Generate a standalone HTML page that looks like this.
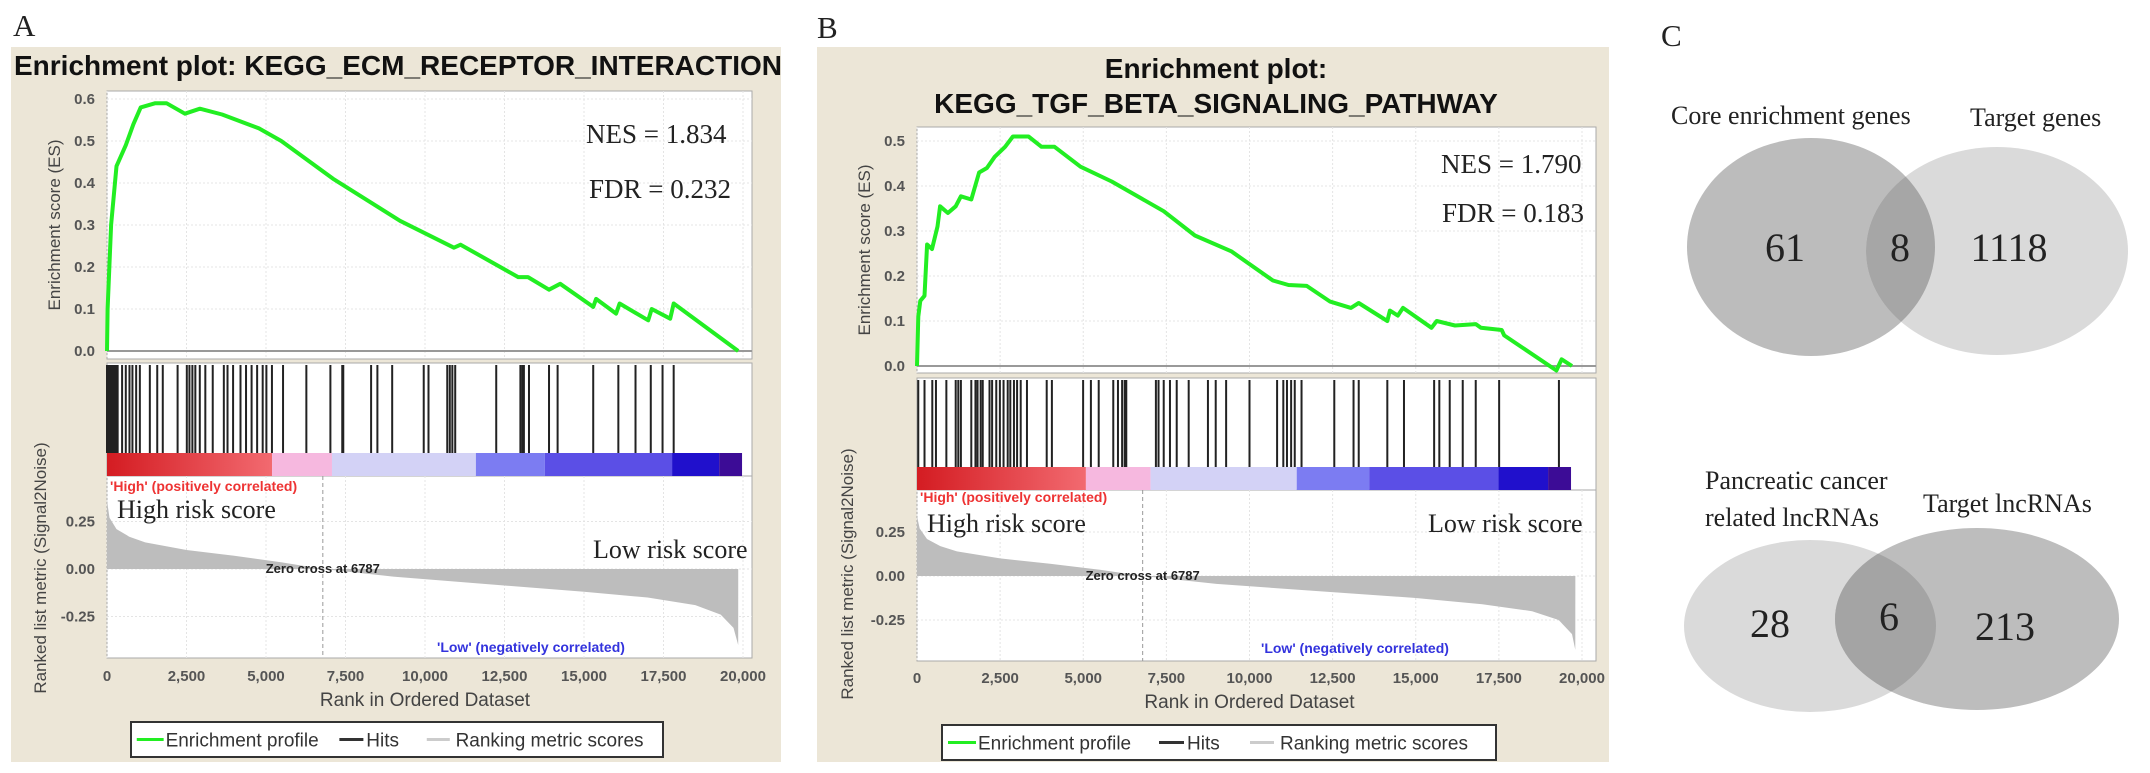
<!DOCTYPE html>
<html><head><meta charset="utf-8">
<style>
html,body{margin:0;padding:0;background:#fff;}
svg{display:block;}
.tk{font-family:"Liberation Sans",Arial,sans-serif;font-size:15px;font-weight:bold;fill:#555;}
.ax{font-family:"Liberation Sans",Arial,sans-serif;font-size:19px;fill:#444;}
.yl{font-family:"Liberation Sans",Arial,sans-serif;font-size:17px;fill:#444;}
.ti{font-family:"Liberation Sans",Arial,sans-serif;font-size:28px;font-weight:bold;fill:#111;}
.tm{font-family:"Liberation Serif","Times New Roman",serif;fill:#222;}
.lg{font-family:"Liberation Sans",Arial,sans-serif;font-size:19px;fill:#333;}
</style></head>
<body>
<svg id="fig" width="2150" height="773" viewBox="0 0 2150 773" xmlns="http://www.w3.org/2000/svg">
<defs>
<linearGradient id="redA" x1="0" x2="1" y1="0" y2="0"><stop offset="0" stop-color="#d41c22"/><stop offset="1" stop-color="#f26a70"/></linearGradient>
</defs>
<text class="tm" x="13" y="36" font-size="31">A</text>
<text class="tm" x="817" y="38" font-size="31">B</text>
<text class="tm" x="1661" y="46" font-size="31">C</text>

<rect x="11" y="47" width="770" height="715" fill="#ece6d7"/>
<rect x="817" y="47" width="792" height="715" fill="#ece6d7"/>
<text class="ti" x="14" y="75">Enrichment plot: KEGG_ECM_RECEPTOR_INTERACTION</text>
<text class="ti" x="1216" y="78" text-anchor="middle">Enrichment plot:</text>
<text class="ti" x="1216" y="113" text-anchor="middle">KEGG_TGF_BETA_SIGNALING_PATHWAY</text>
<g id="gA"></g>
<g id="gB"></g>
<g id="gC"></g>
</svg>
<script>
// ===== Panel A data =====
const esRankA = [0,20,130,300,590,830,1060,1520,1870,2450,2920,3620,4780,5480,7110,9214,10910,11120,12930,13240,13900,14250,15290,15380,16010,16120,17020,17130,17710,17820,19850];
const esValA  = [0,0.10,0.30,0.44,0.49,0.54,0.58,0.59,0.59,0.565,0.577,0.563,0.53,0.50,0.41,0.31,0.246,0.253,0.176,0.176,0.146,0.16,0.105,0.124,0.089,0.113,0.073,0.10,0.077,0.113,0.0];
const hitsA = [0,30,60,90,120,150,180,210,240,270,300,335,475,591,707,800,917,1033,1347,1580,1754,2220,2510,2592,2685,2778,2918,3092,3325,3674,3790,3965,4198,4372,4547,4721,4896,5012,5187,5536,6269,7025,7398,7430,8305,8503,8968,9960,10110,10700,10780,10860,10950,12240,13000,13060,13110,13270,13900,14170,15290,16080,16620,17100,17470,17820];
const metricRankA = [0,80,300,700,1200,2500,4000,5500,6787,9000,12000,15000,17000,18500,19300,19700,19850];
const metricValA  = [0.36,0.27,0.21,0.17,0.14,0.10,0.07,0.035,0,-0.04,-0.08,-0.12,-0.15,-0.19,-0.24,-0.31,-0.40];
const barEndsA = [5190,7075,11600,13770,17770,19250,19970];
// ===== Panel B data =====
const esRankB = [0,38,100,226,304,450,617,695,930,1164,1320,1633,1868,2102,2337,2650,2884,3354,3745,4136,4918,5856,7420,8358,9453,10704,11174,11720,12425,13050,13285,14145,14224,14459,14616,15475,15630,16180,16805,16960,17586,17660,19230,19385,19700];
const esValB  = [0,0.11,0.145,0.156,0.27,0.26,0.31,0.355,0.34,0.355,0.377,0.37,0.43,0.44,0.465,0.487,0.51,0.51,0.487,0.487,0.443,0.41,0.344,0.29,0.255,0.19,0.18,0.178,0.143,0.129,0.14,0.10,0.123,0.112,0.129,0.085,0.10,0.09,0.093,0.085,0.08,0.068,-0.01,0.015,0];
const hitsB = [38,226,460,570,883,1164,1242,1320,1633,1758,1821,1915,1977,2181,2259,2384,2493,2603,2728,2806,2916,3010,3119,3307,3901,4057,4996,5230,5465,5903,6044,6169,6247,6294,7185,7264,7420,7608,7811,8171,8750,8984,9297,10000,10830,11017,11127,11252,11361,11565,12550,13129,13285,14145,14646,15553,15709,16022,16413,16804,17508,19306];
const metricRankB = [0,80,300,700,1200,2500,4000,5500,6787,9000,12000,15000,17000,18500,19300,19700,19800];
const metricValB  = [0.34,0.27,0.21,0.17,0.14,0.10,0.07,0.035,0,-0.045,-0.085,-0.125,-0.16,-0.20,-0.25,-0.33,-0.42];
const barEndsB = [5080,7025,11420,13600,17490,18980,19670];
const xTicks = [0,2500,5000,7500,10000,12500,15000,17500,20000];
const xTickLabels = ["0","2,500","5,000","7,500","10,000","12,500","15,000","17,500","20,000"];
const esTicksA = [0,0.1,0.2,0.3,0.4,0.5,0.6];
const esTicksB = [0,0.1,0.2,0.3,0.4,0.5];
const metricTicks = [0.25,0,-0.25];
const metricTickLabels = ["0.25","0.00","-0.25"];
const zeroCross = 6787;
// ===== Panel C data =====
const vennTopCounts = [61,8,1118];
const vennTopLabels = ["Core  enrichment genes","Target genes"];
const vennBotCounts = [28,6,213];

const NS='http://www.w3.org/2000/svg';
const barColors = ['url(#redA)','#f6b8df','#d3d2f6','#7c7cf2','#5b4fe6','#2010cc','#3c0c96'];
function mk(parent,tag,attrs){const e=document.createElementNS(NS,tag);for(const k in attrs)e.setAttribute(k,attrs[k]);parent.appendChild(e);return e;}

function drawGSEA(g, c, esRank, esVal, esTicks, hits, mRank, mVal, barEnds, pfx){
  const X = r => c.x0 + r/20000*(c.x20k - c.x0);
  const YE = v => c.es0 - v*c.esUnit;
  const YM = v => c.m0 - v*c.mUnit;
  let r=mk(g,'rect',{x:c.left,y:c.esTop,width:c.right-c.left,height:c.esBot-c.esTop,fill:'#fff',stroke:'#aaa'});
  
  r=mk(g,'rect',{x:c.left,y:c.hTop,width:c.right-c.left,height:c.barBot-c.hTop,fill:'#fff',stroke:'#aaa'});
  
  r=mk(g,'rect',{x:c.left,y:c.barBot,width:c.right-c.left,height:c.mBot-c.barBot,fill:'#fff',stroke:'#aaa'});
  
  xTicks.forEach((t,i)=>{
    [[c.esTop,c.esBot],[c.barBot,c.mBot]].forEach(seg=>{
      const l=mk(g,'line',{x1:X(t),x2:X(t),y1:seg[0],y2:seg[1],stroke:'#e4e4e4','stroke-dasharray':'2,2'});
      
    });
    const tx=mk(g,'text',{x:X(t),y:c.tickY,'text-anchor':'middle',class:'tk'});tx.textContent=xTickLabels[i];
    
  });
  esTicks.forEach(t=>{
    const l=mk(g,'line',{x1:c.left,x2:c.right,y1:YE(t),y2:YE(t),stroke:t===0?'#999':'#e4e4e4','stroke-width':t===0?2:1,'stroke-dasharray':t===0?'':'2,2'});
    
    const tx=mk(g,'text',{x:c.left-12,y:YE(t)+5,'text-anchor':'end',class:'tk'});tx.textContent=t.toFixed(1);
    
  });
  metricTicks.forEach((t,i)=>{
    const l=mk(g,'line',{x1:c.left,x2:c.right,y1:YM(t),y2:YM(t),stroke:'#e4e4e4','stroke-dasharray':'2,2'});
    
    const tx=mk(g,'text',{x:c.left-12,y:YM(t)+5,'text-anchor':'end',class:'tk'});tx.textContent=metricTickLabels[i];
    
  });
  let d='M'+X(mRank[0])+','+YM(0);
  mRank.forEach((rk,i)=>{d+=' L'+X(rk).toFixed(1)+','+YM(mVal[i]).toFixed(1);});
  d+=' L'+X(mRank[mRank.length-1])+','+YM(0)+' Z';
  const ar=mk(g,'path',{d:d,fill:'#bdbdbd'});
  
  const zl=mk(g,'line',{x1:X(zeroCross),x2:X(zeroCross),y1:c.barBot,y2:c.mBot,stroke:'#999','stroke-dasharray':'4,3'});
  
  const zt=mk(g,'text',{x:X(zeroCross),y:YM(0)+4,'text-anchor':'middle','font-family':'Liberation Sans, Arial, sans-serif','font-size':13,'font-weight':'bold',fill:'#222'});
  zt.textContent='Zero cross at '+zeroCross;
  
  hits.forEach(h=>{
    const l=mk(g,'line',{x1:X(h),x2:X(h),y1:c.hTop+2,y2:c.barTop,stroke:'#222','stroke-width':2});
    
  });
  let prev=0;
  barEnds.forEach((e,i)=>{
    const b=mk(g,'rect',{x:X(prev),y:c.barTop,width:X(e)-X(prev),height:c.barBot-c.barTop,fill:barColors[i]});
    
    prev=e;
  });
  const pts=esRank.map((rk,i)=>X(rk).toFixed(1)+','+YE(esVal[i]).toFixed(1)).join(' ');
  const pl=mk(g,'polyline',{points:pts,fill:'none',stroke:'#22ee22','stroke-width':4,'stroke-linejoin':'round'});
  
  const T=(x,y,txt,cls,attrs,name)=>{const t=mk(g,'text',Object.assign({x:x,y:y,class:cls},attrs||{}));t.textContent=txt;return t;};
  T(c.left+3,c.hiY,"'High' (positively correlated)",'',{'font-family':'Liberation Sans, Arial, sans-serif','font-size':14,'font-weight':'bold',fill:'#ee3333'},'high-correlated-label');
  T(c.lowX,c.lowY,"'Low' (negatively correlated)",'',{'font-family':'Liberation Sans, Arial, sans-serif','font-size':14,'font-weight':'bold',fill:'#3333dd'},'low-correlated-label');
  T(c.left+10,c.hrY,'High risk score','tm',{'font-size':26},'high-risk-score-label');
  T(c.lrX,c.lrY,'Low risk score','tm',{'font-size':26},'low-risk-score-label');
  T(c.nesX,c.nesY,c.nes,'tm',{'font-size':27},'nes-label');
  T(c.fdrX,c.fdrY,c.fdr,'tm',{'font-size':27},'fdr-label');
  T((c.x0+c.x20k)/2,c.rankY,'Rank in Ordered Dataset','ax',{'text-anchor':'middle'},'x-axis-title');
  T(0,0,'Enrichment score (ES)','yl',{'text-anchor':'middle',transform:'translate('+c.yl1X+','+((c.esTop+c.esBot)/2)+') rotate(-90)'},'es-axis-title');
  T(0,0,'Ranked list metric (Signal2Noise)','yl',{'text-anchor':'middle',transform:'translate('+c.yl2X+','+c.yl2Y+') rotate(-90)'},'metric-axis-title');
  const lb=mk(g,'rect',{x:c.lgX,y:c.lgY,width:c.lgW,height:35,fill:'#fff',stroke:'#333','stroke-width':2});
  
  const ly=c.lgY+17.5, s=c.lgW/554;
  const L=(x1,x2,col,name)=>{const l=mk(g,'line',{x1:c.lgX+x1*s,x2:c.lgX+x2*s,y1:ly,y2:ly,stroke:col,'stroke-width':3});};
  L(6,34,'#22ee22','legend-swatch-enrichment');
  T(c.lgX+36*s,ly+7,'Enrichment profile','lg',{},'legend-entry-enrichment-profile');
  L(217,242,'#333','legend-swatch-hits');
  T(c.lgX+245*s,ly+7,'Hits','lg',{},'legend-entry-hits');
  L(308,332,'#ccc','legend-swatch-ranking');
  T(c.lgX+338*s,ly+7,'Ranking metric scores','lg',{},'legend-entry-ranking-metric-scores');
}

drawGSEA(document.getElementById('gA'),{
  x0:107,x20k:743,left:107,right:752,esTop:91,esBot:359,es0:351,esUnit:420,
  hTop:363,barTop:453,barBot:476,mBot:658,m0:569,mUnit:190,tickY:681,rankY:706,
  hiY:491,lowX:437,lowY:652,hrY:518,lrX:593,lrY:558,nes:'NES = 1.834',nesX:586,nesY:143,fdr:'FDR = 0.232',fdrX:589,fdrY:198,
  yl1X:60,yl2X:46,yl2Y:568,lgX:131,lgY:722,lgW:532
},esRankA,esValA,esTicksA,hitsA,metricRankA,metricValA,barEndsA,'a');

drawGSEA(document.getElementById('gB'),{
  x0:917,x20k:1582,left:917,right:1596,esTop:127,esBot:373,es0:366,esUnit:450,
  hTop:378,barTop:467,barBot:490,mBot:661,m0:576,mUnit:176,tickY:683,rankY:708,
  hiY:502,lowX:1261,lowY:653,hrY:532,lrX:1428,lrY:532,nes:'NES = 1.790',nesX:1441,nesY:173,fdr:'FDR = 0.183',fdrX:1442,fdrY:222,
  yl1X:870,yl2X:853,yl2Y:574,lgX:942,lgY:725,lgW:554
},esRankB,esValB,esTicksB,hitsB,metricRankB,metricValB,barEndsB,'b');

(function(){
  const g=document.getElementById('gC');
  function venn(L,R,colL,colR,colO,counts,id){
    const cp=mk(g,'clipPath',{id:id});
    mk(cp,'ellipse',{cx:R[0],cy:R[1],rx:R[2],ry:R[3]});
    const a=mk(g,'ellipse',{cx:L[0],cy:L[1],rx:L[2],ry:L[3],fill:colL});
    
    const b=mk(g,'ellipse',{cx:R[0],cy:R[1],rx:R[2],ry:R[3],fill:colR});
    
    const o=mk(g,'ellipse',{cx:L[0],cy:L[1],rx:L[2],ry:L[3],fill:colO,'clip-path':'url(#'+id+')'});
    
  }
  function txt(x,y,s,size,name,anchor){const t=mk(g,'text',{x:x,y:y,class:'tm','font-size':size,'text-anchor':anchor||'middle'});t.textContent=s;}
  venn([1811,247,124,109],[1997,251,131,104],'#bcbcbc','#dadada','#a6a6a6',vennTopCounts,'clipTop');
  txt(1785,261,String(vennTopCounts[0]),40,'venn-top-left-count');
  txt(1900,261,String(vennTopCounts[1]),40,'venn-top-overlap-count');
  txt(2009,261,String(vennTopCounts[2]),40,'venn-top-right-count');
  txt(1671,124,vennTopLabels[0],26,'venn-top-left-label','start');
  txt(1970,126,vennTopLabels[1],26,'venn-top-right-label','start');
  venn([1810,626,126,86],[1977,619,142,91],'#dadada','#bdbdbd','#a4a4a4',vennBotCounts,'clipBot');
  txt(1770,637,String(vennBotCounts[0]),40,'venn-bottom-left-count');
  txt(1889,630,String(vennBotCounts[1]),40,'venn-bottom-overlap-count');
  txt(2005,640,String(vennBotCounts[2]),40,'venn-bottom-right-count');
  txt(1705,489,'Pancreatic cancer',26,'venn-bottom-left-label-line1','start');
  txt(1705,526,'related lncRNAs',26,'venn-bottom-left-label-line2','start');
  txt(1923,512,'Target lncRNAs',26,'venn-bottom-right-label','start');
})();
</script>
</body></html>
